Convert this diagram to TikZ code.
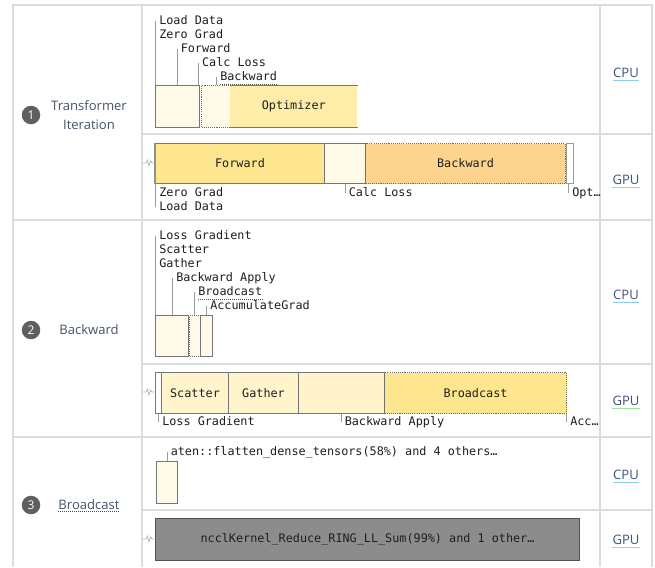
\documentclass[tikz,border=0pt]{standalone}
\usepackage{fontspec}
\setmainfont{Open Sans}
\newfontfamily\monof{DejaVu Sans Mono}
\definecolor{gridc}{HTML}{DCDCDC}
\definecolor{txt}{HTML}{1E1E1E}
\definecolor{slate}{HTML}{44546A}
\definecolor{linkc}{HTML}{3E5378}
\definecolor{boxc}{HTML}{767676}
\definecolor{tickc}{HTML}{9A9A9A}
\definecolor{cream}{HTML}{FFF9E8}
\definecolor{ylw}{HTML}{FEE68E}
\definecolor{optc}{HTML}{FDEDA8}
\definecolor{ltyl}{HTML}{FFF4CC}
\definecolor{orng}{HTML}{FCD48E}
\definecolor{dgray}{HTML}{8C8C8C}
\definecolor{numc}{HTML}{5F5F5F}
\definecolor{blul}{HTML}{8CCBF2}
\definecolor{grnl}{HTML}{98E39A}
\begin{document}
\begin{tikzpicture}[x=0.75pt,y=-0.75pt,
  thickgrid/.style={draw=gridc, line width=2.2pt},
  thingrid/.style={draw=gridc, line width=1.1pt},
  mlab/.style={font=\monof\fontsize{8.85}{10}\selectfont, anchor=west, inner sep=0pt, text=txt, text height=6.4pt, text depth=1.8pt},
  tk/.style={draw=tickc, line width=0.6pt},
  bx/.style={draw=boxc, line width=0.75pt, inner sep=0pt, anchor=north west},
  dbx/.style={draw=boxc!90!black, line width=0.8pt, dash pattern=on 0.8pt off 0.8pt},
  sz/.style 2 args={minimum width=#1*0.75pt, minimum height=#2*0.75pt},
  btext/.style={font=\monof\fontsize{8.85}{10}\selectfont, text=txt},
  rowlab/.style={font=\fontsize{9.8}{13}\selectfont, text=slate, align=center, inner sep=0pt},
  numc/.style={circle, fill=numc, text=white, minimum size=18.5*0.75pt, inner sep=0pt, font=\fontsize{9}{10}\selectfont},
  dev/.style={font=\fontsize{9.8}{12}\selectfont, text=linkc, inner sep=0pt},
  squig/.style={draw=gridc!80!black, line width=0.5pt},
  dotul/.style={draw=txt!80, line width=0.7pt, dash pattern=on 0.75pt off 0.75pt}
]
\useasboundingbox[fill=white] (0,0) rectangle (655,567);

% ---------- grid ----------
\draw[thingrid] (142,5) -- (142,567);
\draw[thingrid] (600,5) -- (600,567);
\draw[thingrid] (142,134) -- (652,134);
\draw[thingrid] (142,364) -- (652,364);
\draw[thingrid] (142,510) -- (652,510);
\draw[thickgrid] (12,5) -- (653,5);
\draw[thickgrid] (12,220) -- (653,220);
\draw[thickgrid] (12,437) -- (653,437);
\draw[draw=gridc, line width=1.6pt] (13,4) -- (13,567);
\draw[draw=gridc, line width=1.6pt] (652,4) -- (652,567);

% ---------- left labels ----------
\node[numc] (n1) at (31,115) {1};
\node[rowlab] (r1) at (89,115) {Transformer\\[1pt]Iteration};
\node[numc] (n2) at (31,330) {2};
\node[rowlab] (r2) at (89,330) {Backward};
\node[numc] (n3) at (31,505) {3};
\node[rowlab] (r3) at (89,505) {Broadcast};
\draw[dotul] ([yshift=-1.2pt]r3.south west) -- ([yshift=-1.2pt]r3.south east);

% ---------- device labels ----------
\foreach \nm/\lab/\yy/\cc in {d1c/CPU/73/blul, d1g/GPU/180/grnl, d2c/CPU/295/blul, d2g/GPU/401/grnl, d3c/CPU/475/blul, d3g/GPU/540/grnl}{
  \node[dev] (\nm) at (626,\yy) {\lab};
  \draw[draw=\cc, line width=0.8pt] ([yshift=-1.6pt]\nm.south west) -- ([yshift=-1.6pt]\nm.south east);
}

% ---------- squiggles ----------
\foreach \yy in {163,392,539}{
  \draw[squig] (143,\yy) -- (146,\yy) -- (147.5,\yy-3) -- (149,\yy+3) -- (150.5,\yy-2) -- (152,\yy) -- (154,\yy);
}

% ======== Row 1 CPU ========
\node[bx, fill=cream, sz={44}{42}] (c1a) at (155,85) {};
\node[bx, fill=cream, dbx, sz={29}{42}] (c1b) at (201,85) {};
\node[inner sep=0pt, anchor=north west, fill=optc, sz={127}{42}] (c1c) at (230,85) {};
\draw[draw=boxc, line width=0.75pt] (c1c.north west) -- (c1c.north east);
\draw[draw=boxc, line width=0.75pt] (c1c.south west) -- (c1c.south east);
\node[btext] (c1ct) at (c1c.center) {Optimizer};

\node[mlab] (l1a) at (159,21) {Load Data};
\node[mlab] (l1b) at (159,35) {Zero Grad};
\node[mlab] (l1c) at (180.5,49) {Forward};
\node[mlab] (l1d) at (201.8,63) {Calc Loss};
\node[mlab] (l1e) at (220,77) {Backward};
\draw[dotul] ([yshift=-1.3pt]l1e.south west) -- ([yshift=-1.3pt]l1e.south east);
\foreach \l in {l1a,l1b,l1c,l1d,l1e}{
  \draw[tk] ([xshift=-2.6pt]\l.west) -- ([xshift=-2.6pt]\l.west |- c1a.north);
}

% ======== Row 1 GPU ========
\node[bx, fill=ylw, sz={169}{40}] (g1a) at (155,143) {};
\draw[draw=boxc!80, line width=1.5pt] (g1a.north west) -- (g1a.south west);
\node[btext] at (g1a.center) {Forward};
\node[bx, fill=cream, sz={41}{40}] (g1b) at (324,143) {};
\node[bx, fill=orng, dbx, sz={200}{40}] (g1c) at (365,143) {};
\node[btext] at (g1c.center) {Backward};
\node[bx, fill=white, draw=tickc, line width=1.1pt, sz={7}{40}] (g1d) at (565.5,143) {};

\node[mlab] (m1a) at (159,193) {Zero Grad};
\node[mlab] (m1b) at (159,207) {Load Data};
\node[mlab] (m1c) at (348.5,193) {Calc Loss};
\node[mlab] (m1d) at (572,193) {Opt…};
\foreach \l in {m1a,m1b,m1c,m1d}{
  \draw[tk] ([xshift=-2.6pt]\l.west |- g1a.south) -- ([xshift=-2.6pt]\l.west);
}

% ======== Row 2 CPU ========
\node[bx, fill=cream, sz={33}{41}] (c2a) at (155,315) {};
\node[bx, fill=cream, dbx, sz={11}{41}] (c2b) at (189,315) {};
\node[bx, fill=cream, sz={12}{41}] (c2c) at (200,315) {};

\node[mlab] (l2a) at (159,236) {Loss Gradient};
\node[mlab] (l2b) at (159,250) {Scatter};
\node[mlab] (l2c) at (159,264) {Gather};
\node[mlab] (l2d) at (176,278) {Backward Apply};
\node[mlab] (l2e) at (198,292) {Broadcast};
\node[mlab] (l2f) at (210,306) {AccumulateGrad};
\draw[dotul] ([yshift=-1.3pt]l2e.south west) -- ([yshift=-1.3pt]l2e.south east);
\foreach \l in {l2a,l2b,l2c,l2d,l2e,l2f}{
  \draw[tk] ([xshift=-2.6pt]\l.west) -- ([xshift=-2.6pt]\l.west |- c2a.north);
}

% ======== Row 2 GPU ========
\node[bx, fill=white, sz={6}{41}] (g2a) at (155,372) {};
\node[bx, fill=ltyl, sz={67}{41}] (g2b) at (161,372) {};
\node[btext] at (g2b.center) {Scatter};
\node[bx, fill=ltyl, sz={70}{41}] (g2c) at (228,372) {};
\node[btext] at (g2c.center) {Gather};
\node[bx, fill=ltyl, sz={86}{41}] (g2d) at (298,372) {};
\node[bx, fill=ylw, dbx, sz={182}{41}] (g2e) at (384,372) {};
\node[btext] at (g2e.center) {Broadcast};

\node[mlab] (m2a) at (162,422) {Loss Gradient};
\node[mlab] (m2b) at (344.5,422) {Backward Apply};
\node[mlab] (m2c) at (570,422) {Acc…};
\foreach \l in {m2a,m2b,m2c}{
  \draw[tk] ([xshift=-2.6pt]\l.west |- g2a.south) -- ([xshift=-2.6pt]\l.west);
}

% ======== Row 3 CPU ========
\node[bx, fill=cream, sz={21}{42}] (c3a) at (156,461) {};
\node[mlab] (l3a) at (170.5,452) {aten::flatten\_dense\_tensors(58\%) and 4 others…};
\draw[tk] ([xshift=-2.6pt]l3a.west) -- ([xshift=-2.6pt]l3a.west |- c3a.north);

% ======== Row 3 GPU ========
\node[bx, fill=dgray, draw=boxc!70!black, sz={424}{42}] (g3a) at (155,518) {};
\node[btext] at (g3a.center) {ncclKernel\_Reduce\_RING\_LL\_Sum(99\%) and 1 other…};
\end{tikzpicture}
\end{document}
